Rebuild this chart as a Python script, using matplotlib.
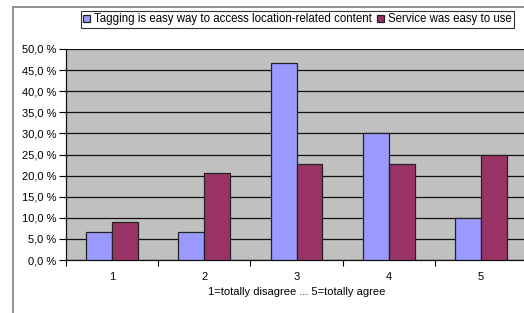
import matplotlib
matplotlib.use("Agg")
import matplotlib.pyplot as plt
import numpy as np
from matplotlib.lines import Line2D

plt.rcParams['font.family'] = ['Liberation Sans', 'DejaVu Sans']

# survey answers, share of respondents (%)
categories = ["1", "2", "3", "4", "5"]
tagging = [6.7, 6.7, 46.7, 30.0, 10.0]
service = [9.1, 20.5, 22.7, 22.7, 25.0]
series_names = ["Tagging is easy way to access location-related content",
                "Service was easy to use"]
yticks = np.arange(0, 50.1, 5)

fig = plt.figure(figsize=(5.24, 3.13), dpi=100)
ax = fig.add_axes([66 / 524, 53 / 313, 461 / 524, 211 / 313])
ax.set_facecolor('#c0c0c0')

x = np.arange(1, len(categories) + 1)
w = 0.28
b1 = ax.bar(x - w / 2, tagging, w, color='#9999ff', edgecolor='#222222', lw=0.9, zorder=3,
            label=series_names[0])
b2 = ax.bar(x + w / 2, service, w, color='#993366', edgecolor='#222222', lw=0.9, zorder=3,
            label=series_names[1])

ax.set_xlim(0.5, 5.5)
ax.set_ylim(0, 50)
ax.set_yticks(yticks)
ax.set_yticklabels([f"{v:.1f} %".replace('.', ',') for v in yticks], fontsize=8)
ax.yaxis.grid(True, color='#111111', lw=0.9, zorder=1)
ax.tick_params(axis='y', length=5, width=0.8, pad=2)

# category labels centred, tick marks between categories
ax.set_xticks(np.arange(0.5, 5.6, 1))
ax.set_xticklabels([])
ax.set_xticks(x, minor=True)
ax.set_xticklabels(categories, minor=True, fontsize=8)
ax.tick_params(axis='x', which='major', length=4, width=0.8)
ax.tick_params(axis='x', which='minor', length=0, pad=9)
ax.set_xlabel("1=totally disagree ... 5=totally agree", fontsize=8, labelpad=3)

for s in ['top', 'right']:
    ax.spines[s].set_visible(False)
for s in ['left', 'bottom']:
    ax.spines[s].set_color('#111111')
    ax.spines[s].set_linewidth(0.9)

leg = fig.legend(handles=[b1, b2], loc='upper left', bbox_to_anchor=(81 / 524, 1 - 11 / 313),
                 ncol=2, fontsize=8.3, frameon=True, fancybox=False, edgecolor='black',
                 handlelength=0.6, handleheight=0.6, handletextpad=0.3, columnspacing=0.5,
                 borderpad=0.2, borderaxespad=0)
leg.get_frame().set_linewidth(0.8)

# outer chart border (cut off at the right/bottom)
fig.add_artist(Line2D([13 / 524, 13 / 524], [0, 1 - 7 / 313], color='#808080', lw=1.2))
fig.add_artist(Line2D([13 / 524, 1], [1 - 7 / 313, 1 - 7 / 313], color='#808080', lw=1.2))

fig.savefig("out.png", dpi=100)
